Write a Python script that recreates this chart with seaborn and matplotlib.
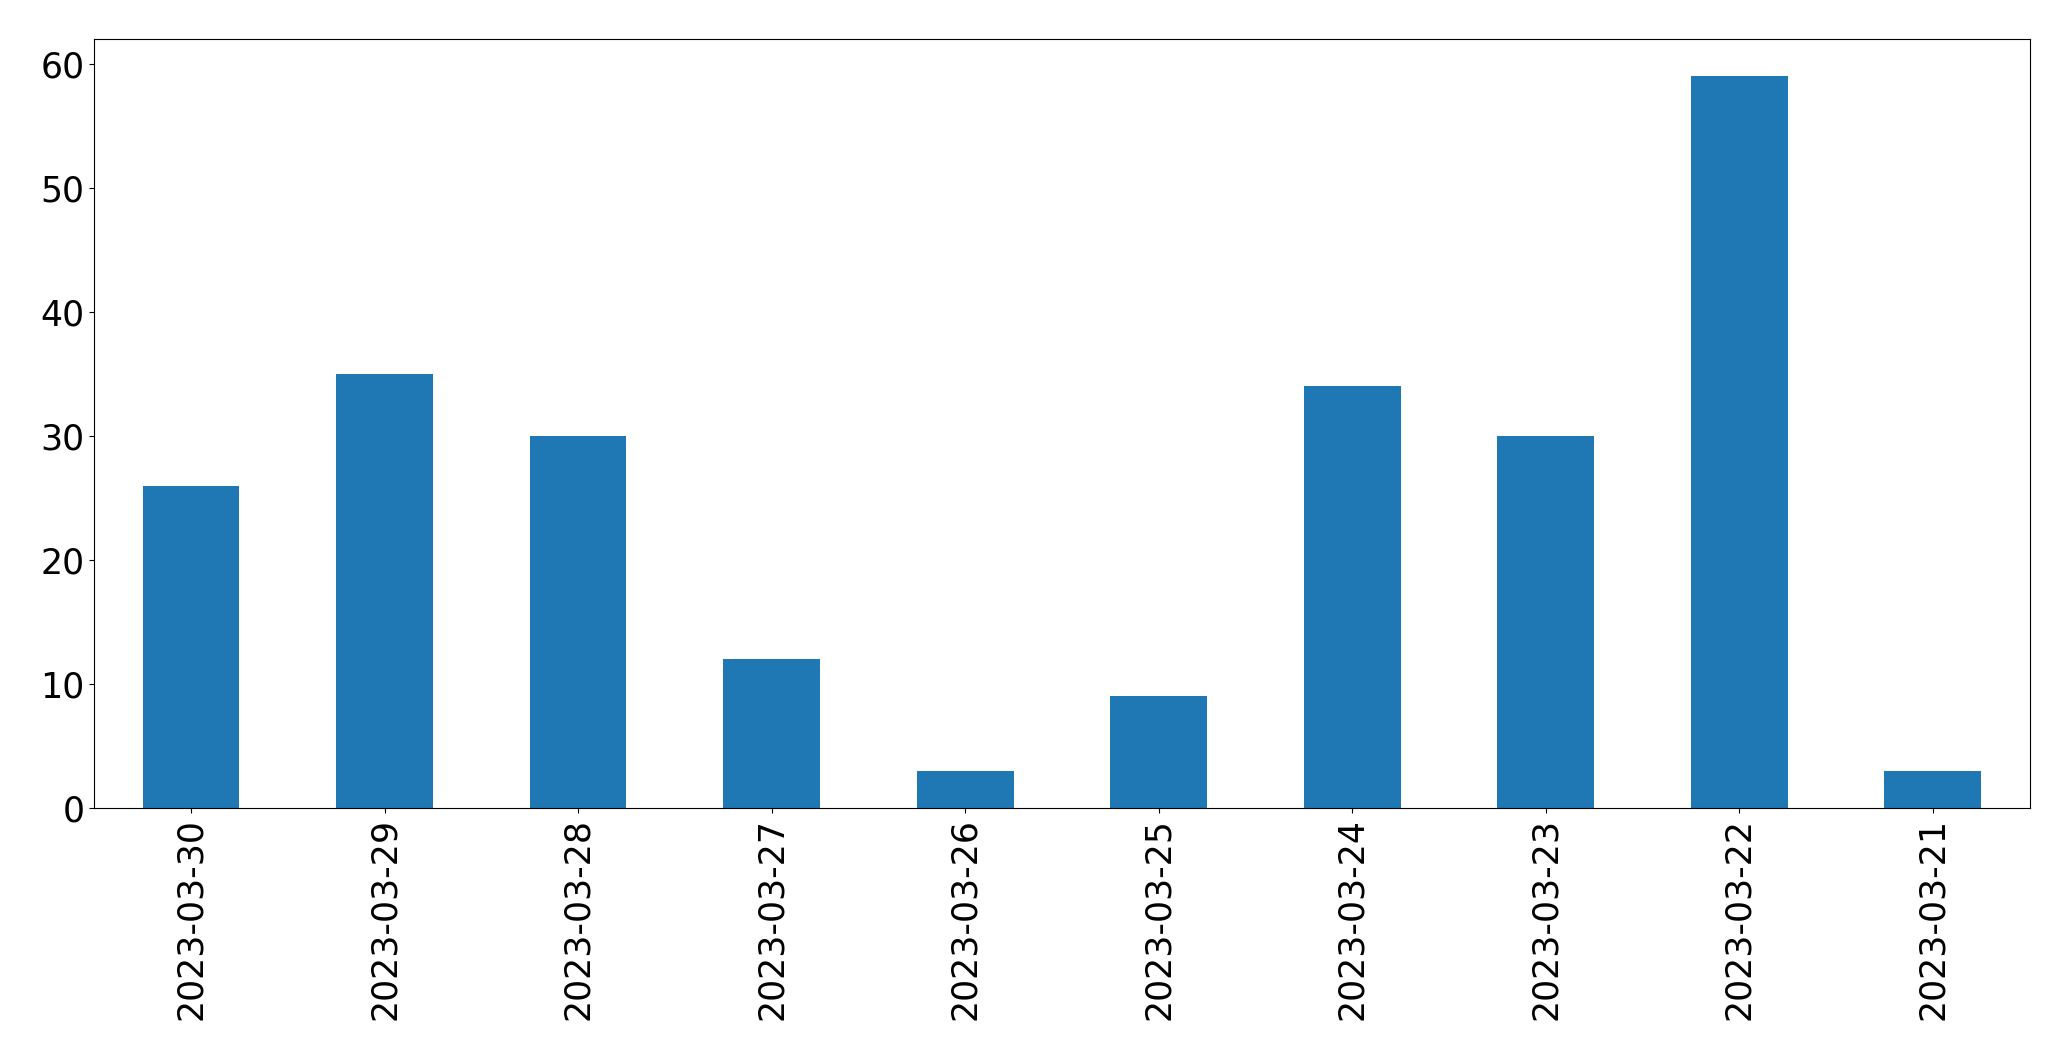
import matplotlib
matplotlib.use("Agg")
import matplotlib.pyplot as plt
import seaborn as sns
import pandas as pd

dates = ["2023-03-30", "2023-03-29", "2023-03-28", "2023-03-27", "2023-03-26",
         "2023-03-25", "2023-03-24", "2023-03-23", "2023-03-22", "2023-03-21"]
counts = [26, 35, 30, 12, 3, 9, 34, 30, 59, 3]

df = pd.DataFrame({"date": dates, "count": counts})

fig = plt.figure(figsize=(20.71, 10.61), dpi=100)
ax = fig.add_axes([0.0455, 0.2385, 0.9345, 0.7245])
sns.barplot(data=df, x="date", y="count", order=dates, color="#1f77b4",
            saturation=1, width=0.5, linewidth=0, ax=ax)
ax.set_xlim(-0.5, len(dates) - 0.5)
ax.set_ylim(0, 62)
ax.set_xlabel("")
ax.set_ylabel("")
ax.tick_params(axis="both", labelsize=25)
ax.tick_params(axis="x", rotation=90)
fig.savefig("out.png", dpi=100)
